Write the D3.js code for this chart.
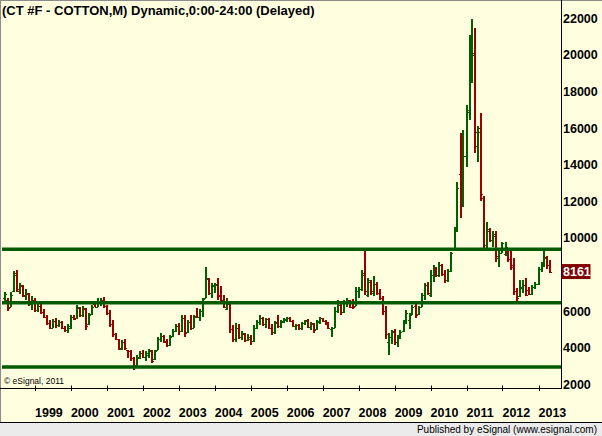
<!DOCTYPE html>
<html>
<head>
<meta charset="utf-8">
<script src="https://cdn.jsdelivr.net/npm/d3@7"></script>
<style>
body { margin: 0; background: #fff; }
svg { display: block; font-family: Arial, "Liberation Sans", sans-serif; }
</style>
</head>
<body>
<svg width="602" height="436"></svg>
<script>
// Monthly bars of the continuous cotton contract, first bar = March 1998.
// Prices in hundredths of a cent (8161 = 81.61 c/lb).
var firstYear = 1998, firstMonth = 2;
var open = [
  6700,6600,6250,7100,8100,7100,7350,6850,6950,6400,
  6600,6050,6300,5950,5700,5350,5100,5450,5250,5400,5100,4950,
  5050,5700,5600,6150,5800,6100,5300,5850,6400,6250,6450,6600,
  6300,5900,5300,4750,4450,3950,4300,3850,3800,3450,3050,3450,
  3700,3500,3600,3800,3400,3850,4450,4650,4300,4150,4650,4900,
  5200,4900,5650,4850,5400,5100,5750,5700,6000,6700,7750,7000,
  7350,7500,6900,6500,6100,6400,5000,4500,5100,4600,4750,4400,
  4500,4350,5100,5400,5600,5300,5550,5100,4850,5400,5200,5400,
  5500,5650,5450,5200,5250,5050,5350,5500,5150,5300,5000,5450,
  5600,5450,5300,5000,5100,6000,6350,5950,6450,6600,6500,6300,
  7100,7200,8100,6900,7600,7000,7500,7000,6700,6000,4300,4600,
  4900,4300,4550,4900,5350,5500,5800,6300,5850,6250,6900,7400,
  6900,8000,8300,8000,8500,8050,7700,8200,9450,10450,13500,12000,
  14500,17000,19600,20100,15000,16000,12200,9600,10400,9900,10100,8900,
  9200,9100,9300,8850,8500,7100,6800,7250,7450,7150,6950,7300,
  7500,8300,8600,8950,8500
];
var high = [
  7060,6700,7060,8200,8250,7560,7400,7200,7000,6800,
  6690,6400,6450,6100,5800,5500,5550,5600,5500,5450,5200,5300,
  5800,5800,6340,6200,6300,6170,5900,6330,6510,6690,6700,6790,
  6330,6060,5500,4800,4500,4400,4450,3900,3850,3500,3600,3800,
  3880,3800,3950,3850,3870,4600,4800,4700,4500,4700,5000,5300,
  5370,5780,5790,5520,5790,5800,6180,6100,6720,8430,7810,7530,
  7520,7810,7350,6880,6720,6450,5240,5350,5300,4900,4800,4750,
  4700,5240,5500,5790,5700,5650,5600,5300,5450,5790,5500,5600,
  5700,5680,5510,5300,5300,5420,5510,5550,5420,5330,5510,5690,
  5650,5500,5400,5150,6240,6600,6450,6600,6700,6600,6650,7300,
  7300,8250,9300,7810,7700,7900,7600,7200,6800,6300,4800,4950,
  5030,4700,4970,5500,6060,5900,6330,6510,6300,6990,7530,7600,
  8250,8500,8430,8700,8550,8250,8300,9250,10600,13070,15710,15900,
  17260,21090,21960,21450,16110,16810,12300,10880,10540,10400,10360,9340,
  9790,9790,9400,9340,8890,7240,7700,7700,7800,7300,7400,7600,
  8430,8700,9340,9000,8790
];
var low = [
  6500,6000,6200,7050,7060,6950,6750,6600,6300,6050,
  5970,5950,5850,5600,5250,5000,5050,5100,5150,5000,4850,4800,
  5000,5500,5550,5700,5700,4970,5250,5800,6200,6200,6300,6150,
  5790,5150,4600,4400,3870,3900,3900,3450,3300,2780,2950,3400,
  3450,3300,3450,3150,3330,3850,4300,4250,4050,4100,4600,4850,
  4700,4850,4600,4800,4960,5050,5630,5450,5690,6700,6880,6720,
  6990,6600,6510,6150,6060,4790,4330,4330,4500,4400,4300,4350,
  4150,4300,5000,5240,5200,5100,5000,4700,4750,5100,5100,5350,
  5420,5400,5150,4970,4970,4970,5250,5050,4970,4800,4950,5300,
  5400,5250,5000,4600,5100,5900,5800,5900,6250,6150,6100,6300,
  6700,7100,6900,6790,6900,6800,6900,6600,5800,4500,3600,4200,
  4150,4050,4500,4850,5300,5000,5790,5620,5800,6240,6600,6880,
  6790,7600,7880,7880,7900,7530,7600,8150,9430,10300,11070,11700,
  13890,16450,18450,14620,14160,12000,9340,9450,9790,9500,8700,8430,
  9170,9000,8700,8250,6880,6450,6750,6990,6800,6880,6900,7200,
  7450,8150,8430,8300,8060
];
var close = [
  6950,6150,6900,8000,7200,7400,6900,7000,6450,6600,
  6050,6300,5950,5700,5350,5100,5450,5250,5400,5100,4950,5200,
  5700,5550,6200,5800,6150,5200,5800,6250,6250,6500,6600,6300,
  5900,5300,4750,4500,4000,4300,4000,3800,3450,3000,3500,3700,
  3500,3700,3850,3300,3800,4500,4650,4350,4150,4600,4900,5200,
  4900,5650,4800,5400,5100,5700,5700,6000,6650,7800,7000,7400,
  7400,6800,6600,6250,6500,5000,4500,5100,4600,4800,4400,4600,
  4350,5100,5400,5600,5300,5550,5100,4850,5350,5200,5450,5550,
  5650,5450,5200,5250,5050,5350,5450,5150,5350,4950,5400,5600,
  5450,5300,5100,5100,6000,6350,5950,6500,6600,6250,6250,7100,
  7200,8000,7100,7700,7100,7500,7000,6700,6000,4750,4600,4850,
  4300,4600,4850,5400,5900,5800,6200,5800,6200,6900,7400,7000,
  8000,8300,8000,8500,8050,7700,8200,9150,10450,12700,12000,14500,
  16900,19100,20000,15800,15800,12400,9600,10500,9900,10200,9000,9200,
  9700,9500,8850,8400,7100,6700,7300,7450,6900,6950,7300,7500,
  8300,8600,8900,8500,8161
];
var supportLevels = [9380, 6450, 2950];
var priceTicks = [2000, 4000, 6000, 8000, 10000, 12000, 14000, 16000, 18000, 20000, 22000];
var yearTicks = d3.range(1999, 2014);
var title = '(CT #F - COTTON,M) Dynamic,0:00-24:00 (Delayed)';
var lastPrice = close[close.length - 1];

var svg = d3.select('svg');
var W = 602, H = 436;
var plotRight = 561.5, plotBottom = 388.5;

var x = d3.scaleTime()
  .domain([new Date(1999, 0, 1), new Date(2013, 0, 1)])
  .range([35, 538.5]);
var y = d3.scaleLinear().domain([2000, 22000]).range([384.3, 18.3]);

var bars = open.map(function(o, i) {
  return { date: new Date(firstYear, firstMonth + i, 1), o: o, h: high[i], l: low[i], c: close[i] };
});

// background + frame
svg.append('rect').attr('width', W).attr('height', H).attr('fill', '#ffffe0');
svg.append('rect').attr('x', 0).attr('y', 422).attr('width', W).attr('height', 14).attr('fill', '#ebebeb');
svg.append('line').attr('x1', 0).attr('x2', W).attr('y1', 422.5).attr('y2', 422.5).attr('stroke', '#000');
svg.append('line').attr('x1', 0).attr('x2', W).attr('y1', 0.5).attr('y2', 0.5).attr('stroke', '#8c8c8c');
svg.append('line').attr('x1', 0.5).attr('x2', 0.5).attr('y1', 0).attr('y2', 422).attr('stroke', '#8c8c8c');

// OHLC bars
var px = function(d) { return Math.round(x(d.date)); };
var g = svg.append('g').attr('class', 'bars').attr('shape-rendering', 'crispEdges');
var bar = g.selectAll('g').data(bars).enter().append('g')
  .attr('stroke', function(d) { return d.c >= d.o ? '#006000' : '#990000'; });
bar.append('line')
  .attr('x1', px).attr('x2', px)
  .attr('y1', function(d) { return y(d.h); })
  .attr('y2', function(d) { return y(d.l); })
  .attr('stroke-width', 2);
bar.append('line')
  .attr('x1', function(d) { return px(d) - 2; })
  .attr('x2', function(d) { return px(d); })
  .attr('y1', function(d) { return Math.round(y(d.o)) + 0.5; })
  .attr('y2', function(d) { return Math.round(y(d.o)) + 0.5; })
  .attr('stroke-width', 1);
bar.append('line')
  .attr('x1', function(d) { return px(d); })
  .attr('x2', function(d) { return px(d) + 2; })
  .attr('y1', function(d) { return Math.round(y(d.c)) + 0.5; })
  .attr('y2', function(d) { return Math.round(y(d.c)) + 0.5; })
  .attr('stroke-width', 1);

// support / resistance lines
svg.selectAll('.level').data(supportLevels).enter().append('line')
  .attr('class', 'level')
  .attr('x1', 2).attr('x2', plotRight)
  .attr('y1', function(d) { return y(d); })
  .attr('y2', function(d) { return y(d); })
  .attr('stroke', '#005a00').attr('stroke-width', 3.5);

// axes lines
svg.append('line').attr('x1', plotRight).attr('x2', plotRight).attr('y1', 0).attr('y2', plotBottom + 0.5).attr('stroke', '#000');
svg.append('line').attr('x1', 0).attr('x2', plotRight).attr('y1', plotBottom).attr('y2', plotBottom).attr('stroke', '#000');

// price labels (the one under the last-price box is hidden, as in eSignal)
svg.selectAll('.plabel')
  .data(priceTicks.filter(function(d) { return Math.abs(y(d) - y(lastPrice)) > 12; }))
  .enter().append('text')
  .attr('class', 'plabel')
  .attr('x', 563)
  .attr('y', function(d) { return y(d) + 4.5; })
  .attr('font-size', '12.5px').attr('font-weight', 'bold')
  .text(function(d) { return d; });

// year ticks + labels
var years = yearTicks.map(function(yr) { return new Date(yr, 0, 1); });
svg.selectAll('.ytick').data(years).enter().append('line')
  .attr('x1', function(d) { return Math.round(x(d)) + 0.5; })
  .attr('x2', function(d) { return Math.round(x(d)) + 0.5; })
  .attr('y1', 385.5).attr('y2', 391)
  .attr('stroke', '#000');
svg.selectAll('.ylabel').data(years).enter().append('text')
  .attr('x', function(d) { return x(d); })
  .attr('y', 417)
  .attr('font-size', '12.5px').attr('font-weight', 'bold')
  .text(function(d) { return d.getFullYear(); });

// last price marker
svg.append('rect')
  .attr('x', 561.5).attr('y', y(lastPrice) - 7.5)
  .attr('width', 29).attr('height', 15)
  .attr('fill', '#800000');
svg.append('text')
  .attr('x', 563).attr('y', y(lastPrice) + 4.5)
  .attr('font-size', '12.5px').attr('font-weight', 'bold').attr('fill', '#fff')
  .text(lastPrice);

// texts
svg.append('text').attr('x', 2).attr('y', 15)
  .attr('font-size', '13px').attr('font-weight', 'bold')
  .text(title);
svg.append('text').attr('x', 4).attr('y', 384)
  .attr('font-size', '8.5px')
  .text('\u00a9 eSignal, 2011');
svg.append('text').attr('x', 597).attr('y', 433)
  .attr('font-size', '10px').attr('text-anchor', 'end')
  .text('Published by eSignal (www.esignal.com)');
</script>
</body>
</html>
